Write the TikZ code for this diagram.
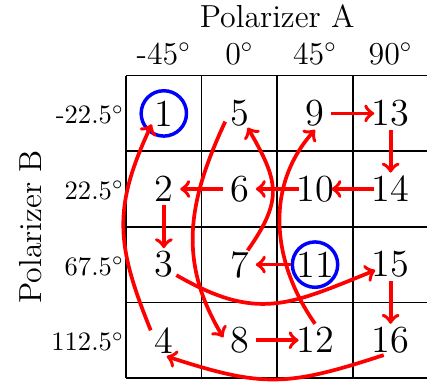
\documentclass[tikz,border=0pt]{standalone}
\usepackage{tikz}
\usetikzlibrary{positioning}
\newcommand{\cellnum}[1]{\makebox[0pt]{#1}}

\begin{document}
\begin{tikzpicture}[
    num/.style={circle, inner sep=0pt, minimum size=0.42cm, font=\Large},
    ring/.style={circle, draw=blue, line width=1.3pt, inner sep=0pt, minimum size=0.6cm},
    flow/.style={->, red, line width=1.4pt},
    head/.style={font=\large, anchor=base},
    rowlab/.style={anchor=base east, inner sep=0.5pt},
]
\useasboundingbox (-1.667,-0.04) rectangle (3.981,5.0);
\draw[line width=0.6pt] (0,0) grid (4,4);

% axis titles and angles
\node[head] (titleA) at (2,4.64) {Polarizer A};
\node[head, rotate=90] (titleB) at (-1.12,2) {Polarizer B};
\node[head] (a1) at (0.5,4.15) {-45$^\circ$};
\node[head] (a2) at (1.5,4.15) {0$^\circ$};
\node[head] (a3) at (2.5,4.15) {45$^\circ$};
\node[head] (a4) at (3.5,4.15) {90$^\circ$};
\node[rowlab] (b1) at (0,3.36) {-22.5$^\circ$};
\node[rowlab] (b2) at (0,2.36) {22.5$^\circ$};
\node[rowlab] (b3) at (0,1.36) {67.5$^\circ$};
\node[rowlab] (b4) at (0,0.36) {112.5$^\circ$};

% cell numbers
\node[num] (n1) at (0.5,3.5) {\cellnum{1}};
\node[num] (n2) at (0.5,2.5) {\cellnum{2}};
\node[num] (n3) at (0.5,1.5) {\cellnum{3}};
\node[num] (n4) at (0.5,0.5) {\cellnum{4}};
\node[num] (n5) at (1.5,3.5) {\cellnum{5}};
\node[num] (n6) at (1.5,2.5) {\cellnum{6}};
\node[num] (n7) at (1.5,1.5) {\cellnum{7}};
\node[num] (n8) at (1.5,0.5) {\cellnum{8}};
\node[num] (n9) at (2.5,3.5) {\cellnum{9}};
\node[num] (n10) at (2.5,2.5) {\cellnum{10}};
\node[num] (n11) at (2.5,1.5) {\cellnum{11}};
\node[num] (n12) at (2.5,0.5) {\cellnum{12}};
\node[num] (n13) at (3.5,3.5) {\cellnum{13}};
\node[num] (n14) at (3.5,2.5) {\cellnum{14}};
\node[num] (n15) at (3.5,1.5) {\cellnum{15}};
\node[num] (n16) at (3.5,0.5) {\cellnum{16}};
\node[ring] (c1) at (n1) {};
\node[ring] (c11) at (n11) {};

% path through the cells
\draw[flow] (c11) -- (n7);
\draw[flow] (n7.60) to[out=55, in=-60, looseness=1.3] (n5.-60);
\draw[flow] (n5.210) to[out=245, in=121, looseness=1.05] (n8.170);
\draw[flow] (n8) -- (n12);
\draw[flow] (n12.north) to[out=125, in=228] (n9.south);
\draw[flow] (n9) -- (n13);
\draw[flow] (n13) -- (n14);
\draw[flow] (n14) -- (n10);
\draw[flow] (n10) -- (n6);
\draw[flow] (n6) -- (n2);
\draw[flow] (n2) -- (n3);
\draw[flow] (n3.-40) to[out=-30, in=202, looseness=1.2] (n15.200);
\draw[flow] (n15) -- (n16);
\draw[flow] (n16.-115) to[out=198, in=-18, looseness=1.2] (n4.-80);
\draw[flow] (n4.143) to[out=112, in=245, looseness=1.15] (n1.222);

\end{tikzpicture}
\end{document}
